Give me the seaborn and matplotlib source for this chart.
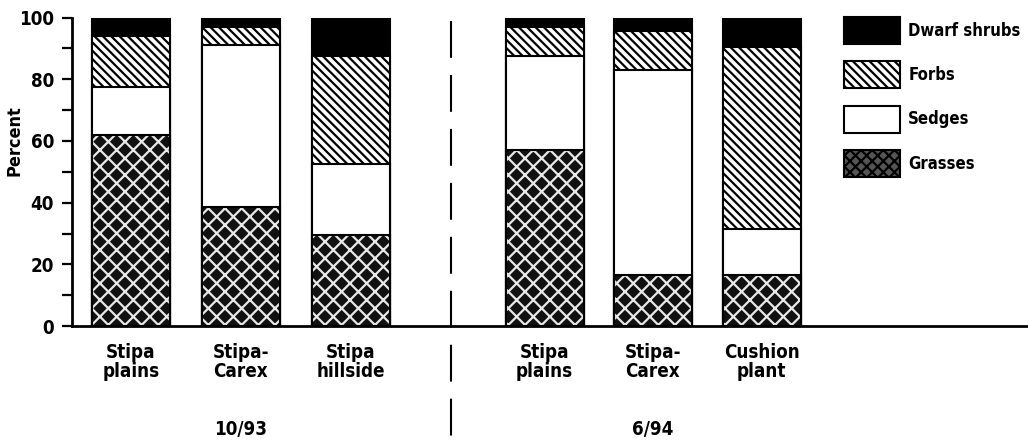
import numpy as np
import pandas as pd
import seaborn as sns
import matplotlib.pyplot as plt
from matplotlib.patches import Patch
from matplotlib.ticker import MultipleLocator

# Data (percent of cover)
sites = ["Stipa\nplains", "Stipa-\nCarex", "Stipa\nhillside",
         "Stipa\nplains", "Stipa-\nCarex", "Cushion\nplant"]
dates = ["10/93", "6/94"]
grasses = [62, 38.5, 29.5, 57, 16.5, 16.5]
sedges = [15.5, 52.5, 23, 30.5, 66.5, 15]
forbs = [16.5, 6, 35, 9.5, 12.5, 59]
dwarf_shrubs = [6, 3, 12.5, 3, 4.5, 9.5]

# layout: bar centres (gap between the two sampling dates)
xpos = [0, 1, 2, 3.76, 4.745, 5.735]

sns.set_style("ticks")
plt.rcParams["font.family"] = ["DejaVu Sans"]
plt.rcParams["font.stretch"] = "condensed"
plt.rcParams["font.weight"] = "bold"
plt.rcParams["text.color"] = "black"
plt.rcParams["ytick.color"] = "black"
plt.rcParams["xtick.color"] = "black"
plt.rcParams["axes.labelcolor"] = "black"
plt.rcParams["hatch.linewidth"] = 1.6

df = pd.DataFrame({"x": xpos, "grasses": grasses, "sedges": sedges,
                   "forbs": forbs, "dwarf": dwarf_shrubs})
df["c_sedges"] = df["grasses"] + df["sedges"]
df["c_forbs"] = df["c_sedges"] + df["forbs"]
df["c_dwarf"] = df["c_forbs"] + df["dwarf"]

fig = plt.figure(figsize=(10.28, 4.4), dpi=100)
ax = fig.add_axes([0.070, 0.259, 0.930, 0.701])

common = dict(data=df, x="x", native_scale=True, width=0.72, errorbar=None,
              saturation=1, ax=ax)
lw = 1.5
# stack drawn top-down, each layer over the previous one
sns.barplot(y="c_dwarf", color="black", edgecolor="black", linewidth=lw, **common)
sns.barplot(y="c_forbs", color="white", edgecolor="black", linewidth=lw,
            hatch="\\\\\\\\", **common)
sns.barplot(y="c_sedges", color="white", edgecolor="black", linewidth=lw, **common)
sns.barplot(y="grasses", color="#111111", edgecolor="#e8e8e8", linewidth=0,
            hatch="xx", **common)
sns.barplot(y="grasses", color="black", fill=False, linewidth=lw, **common)

# axes styling
ax.set_xlim(-0.536, 8.155)
ax.set_ylim(0, 100)
sns.despine(ax=ax)
for side in ["left", "bottom"]:
    ax.spines[side].set_linewidth(2)
    ax.spines[side].set_color("black")
ax.yaxis.set_major_locator(MultipleLocator(20))
ax.yaxis.set_minor_locator(MultipleLocator(10))
ax.tick_params(axis="y", which="both", length=7, width=1.6, pad=6)
ax.tick_params(axis="y", labelsize=13.5)
for t in ax.get_yticklabels():
    t.set_fontweight("bold")
ax.set_xticks(xpos)
ax.set_xticklabels(sites, fontsize=13.5, fontweight="bold", linespacing=1.05)
ax.tick_params(axis="x", length=0, pad=12)
ax.set_xlabel("")
ax.set_ylabel("Percent", fontsize=13, fontweight="bold")
ax.yaxis.set_label_coords(-0.051, 0.6)

# divider between sampling dates
ax.plot([2.91, 2.91], [99, -37.5], color="black", lw=1.5,
        linestyle=(0, (17.7, 8.2)), clip_on=False)

# date labels under each group
ax.text(xpos[1], -33.5, dates[0], ha="center", va="center",
        fontsize=13.5, fontweight="bold")
ax.text(xpos[4], -33.5, dates[1], ha="center", va="center",
        fontsize=13.5, fontweight="bold")

handles = [
    Patch(facecolor="black", edgecolor="black", linewidth=lw, label="Dwarf shrubs"),
    Patch(facecolor="white", edgecolor="black", linewidth=lw, hatch="\\\\\\\\", label="Forbs"),
    Patch(facecolor="white", edgecolor="black", linewidth=lw, label="Sedges"),
    Patch(facecolor="#555555", edgecolor="black", linewidth=lw, hatch="xxx", label="Grasses"),
]
fig.legend(handles=handles, loc="upper left", bbox_to_anchor=(0.821, 0.961),
           frameon=False, handlelength=3.35, handleheight=2.1,
           labelspacing=1.05, handletextpad=0.5, borderpad=0, borderaxespad=0,
           prop={"weight": "bold", "size": 12, "stretch": "condensed"})

fig.savefig("out.png", dpi=100)
